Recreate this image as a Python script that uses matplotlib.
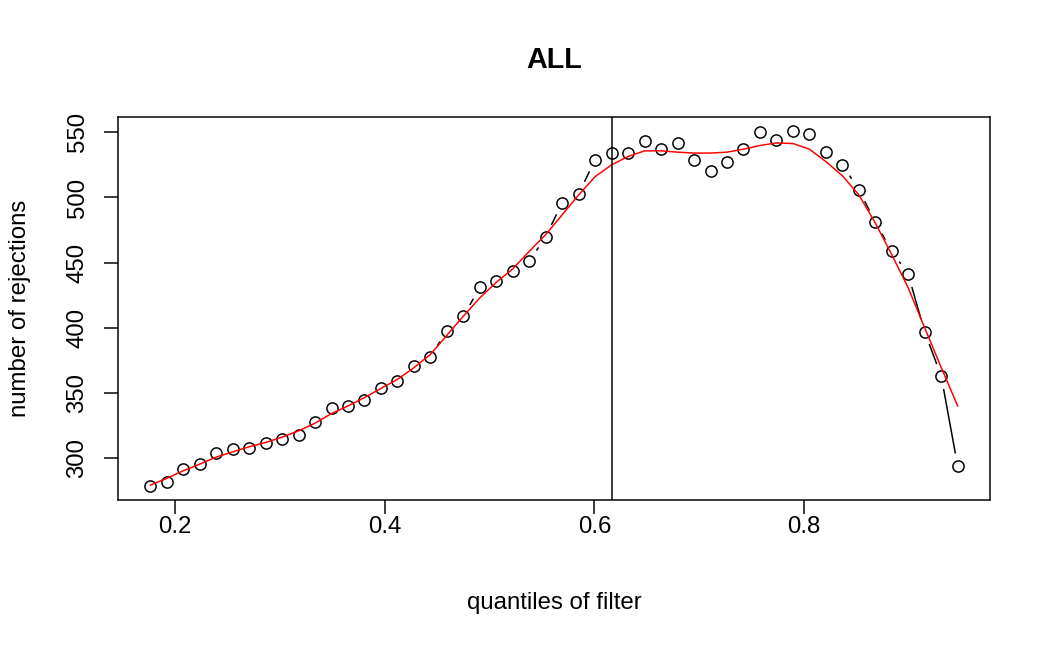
import matplotlib
matplotlib.use("Agg")
import matplotlib.pyplot as plt
import numpy as np

plt.rcParams['font.family'] = ['Liberation Sans', 'DejaVu Sans']

# quantiles of filter (x positions of the points)
theta = [0.1764, 0.1921, 0.2078, 0.2236, 0.2393, 0.2550, 0.2707, 0.2864, 0.3021, 0.3179,
         0.3336, 0.3493, 0.3650, 0.3807, 0.3965, 0.4122, 0.4279, 0.4436, 0.4593, 0.4750,
         0.4908, 0.5065, 0.5222, 0.5379, 0.5536, 0.5694, 0.5851, 0.6008, 0.6165, 0.6322,
         0.6479, 0.6637, 0.6794, 0.6951, 0.7108, 0.7265, 0.7422, 0.7580, 0.7737, 0.7894,
         0.8051, 0.8208, 0.8366, 0.8523, 0.8680, 0.8837, 0.8994, 0.9151, 0.9309, 0.9466]

# number of rejections at each quantile
rejections = [279, 282, 292, 296, 304, 307, 308, 312, 315, 318,
              328, 339, 340, 345, 354, 359, 371, 378, 398, 409,
              431, 436, 444, 451, 470, 496, 503, 529, 534, 534,
              543, 537, 542, 529, 520, 527, 537, 550, 544, 551,
              549, 535, 525, 506, 481, 459, 441, 397, 363, 294]

# smoothed curve (red) at the same x positions
smooth = [279.5, 284.7, 290.5, 295.6, 301.0, 305.0, 308.9, 312.2, 316.3, 321.1,
          327.0, 334.4, 340.2, 346.6, 353.7, 360.6, 369.5, 379.7, 394.3, 409.0,
          423.1, 435.0, 445.3, 458.7, 471.5, 486.8, 502.0, 516.0, 525.0, 531.4,
          535.7, 535.7, 534.7, 534.0, 534.0, 534.7, 537.0, 539.8, 541.8, 541.3,
          537.0, 527.5, 516.6, 502.0, 480.4, 456.2, 430.7, 400.1, 369.6, 340.2]

cut_index = 28  # vertical line drawn at theta[28]

xticks = [0.2, 0.4, 0.6, 0.8]
yticks = [300, 350, 400, 450, 500, 550]

DPI = 144
fig = plt.figure(figsize=(1050 / DPI, 648 / DPI), dpi=DPI)
ax = fig.add_axes([118 / 1050, 1 - 500 / 648, (990 - 118) / 1050, (500 - 116.7) / 648])

x = np.array(theta)
y = np.array(rejections)
xr = x.max() - x.min()
yr = y.max() - y.min()
ax.set_xlim(x.min() - 0.04 * xr, x.max() + 0.04 * xr)
ax.set_ylim(y.min() - 0.04 * yr, y.max() + 0.04 * yr)

# R type="b": segments with gaps around the circles
gap = 13.0  # pixels
pts = ax.transData.transform(np.column_stack([x, y]))
inv = ax.transData.inverted()
for i in range(len(pts) - 1):
    p0, p1 = pts[i], pts[i + 1]
    d = p1 - p0
    L = np.hypot(d[0], d[1])
    if L <= 2 * gap:
        continue
    u = d / L
    a = inv.transform(p0 + u * gap)
    b = inv.transform(p1 - u * gap)
    ax.plot([a[0], b[0]], [a[1], b[1]], color='black', lw=0.75, solid_capstyle='butt')

ax.plot(x, y, linestyle='none', marker='o', markersize=5.6, markerfacecolor='none',
        markeredgecolor='black', markeredgewidth=0.75)
ax.plot(x, smooth, color='red', lw=0.75)
ax.axvline(theta[cut_index], color='black', lw=0.75)

ax.set_xticks(xticks)
ax.set_xticklabels(['0.2', '0.4', '0.6', '0.8'])
ax.set_yticks(yticks)
ax.set_yticklabels([str(v) for v in yticks], rotation=90, va='center')
ax.tick_params(axis='both', direction='out', length=7.2, width=0.75, labelsize=12)
ax.tick_params(axis='x', pad=1)
ax.tick_params(axis='y', pad=7.5)
for s in ax.spines.values():
    s.set_linewidth(0.75)

fig.text(554 / 1050, 1 - 60 / 648, 'ALL', ha='center', va='center', fontsize=14.4, fontweight='bold')
fig.text(554 / 1050, 1 - 603 / 648, 'quantiles of filter', ha='center', va='center', fontsize=12)
fig.text(20 / 1050, 1 - 308 / 648, 'number of rejections', ha='center', va='center',
         rotation=90, fontsize=12)

fig.savefig('out.png', dpi=DPI)
